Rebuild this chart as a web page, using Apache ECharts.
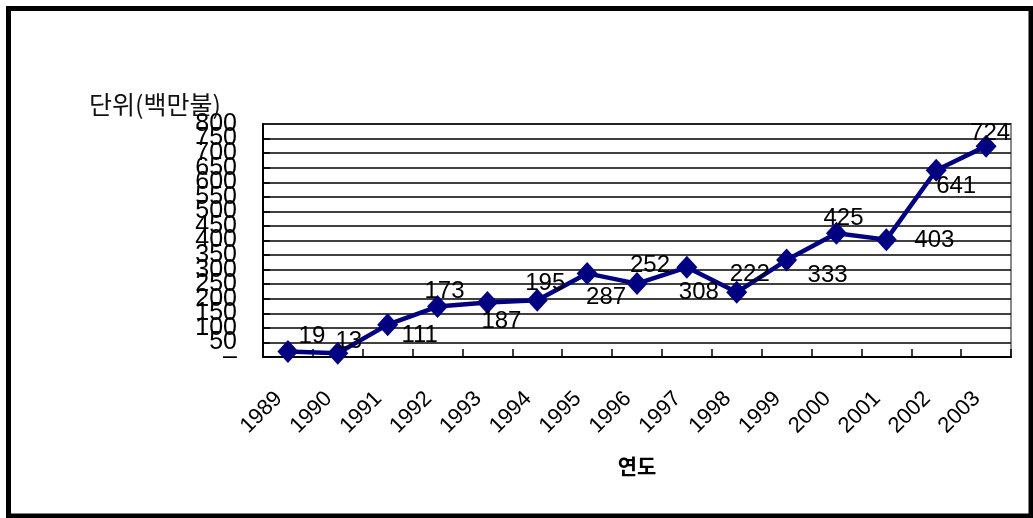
<!DOCTYPE html>
<html>
<head>
<meta charset="utf-8">
<script src="https://cdn.jsdelivr.net/npm/echarts@6/dist/echarts.min.js"></script>
<style>
  html, body { margin: 0; padding: 0; background: #fff; }
  #chart { width: 1033px; height: 518px; }
</style>
</head>
<body>
<div id="chart"></div>
<script>
// 연도별 금액 (단위: 백만불)
const years = ['1989', '1990', '1991', '1992', '1993', '1994', '1995', '1996',
               '1997', '1998', '1999', '2000', '2001', '2002', '2003'];
const amounts = [19, 13, 111, 173, 187, 195, 287, 252, 308, 222, 333, 425, 403, 641, 724];

// 값 축 범위와 눈금 간격
const yMin = 0;
const yMax = 800;
const yStep = 50;

// 값 라벨을 점에서 얼마나 떨어뜨릴지 (px)
const labelShift = [
  [24, -15], [11, -12], [32, 11], [7, -15], [14, 19], [8, -17], [19, 24], [13, -18],
  [12, 25], [13, -18], [41, 15], [7, -15], [48, 1], [20, 16], [4, -13]
];

const numFont = "'Liberation Sans Narrow', 'Liberation Sans', 'Arial Narrow', sans-serif";
const krFont = "'Noto Sans CJK KR', 'Noto Sans', sans-serif";

const tickText = v => (v === 0 ? '–' : String(v));
const yLabelStyle = { margin: 26, fontFamily: numFont, fontSize: 25, lineHeight: 13, color: '#000', hideOverlap: false };

const chart = echarts.init(document.getElementById('chart'), null, { renderer: 'canvas' });

chart.setOption({
  backgroundColor: '#ffffff',
  animation: false,
  grid: {
    left: 263, right: 22, top: 124, bottom: 161,
    show: true, borderColor: '#8a8a8a', borderWidth: 2, backgroundColor: 'transparent'
  },
  graphic: [
    {
      type: 'rect', silent: true, z: 100,
      shape: { x: 8.5, y: 8.5, width: 1022.5, height: 507.5 },
      style: { fill: 'none', stroke: '#000', lineWidth: 5 }
    },
    {
      type: 'text', left: 89, top: 92, z: 100,
      style: { text: '단위(백만불)', font: '25px ' + krFont, fill: '#111' }
    }
  ],
  xAxis: {
    type: 'category',
    data: years,
    boundaryGap: true,
    name: '연도',
    nameLocation: 'middle',
    nameGap: 99,
    nameTextStyle: { fontFamily: krFont, fontSize: 21, fontWeight: 'bold', color: '#000' },
    axisLine: { lineStyle: { color: '#000', width: 2 } },
    axisTick: { show: true, inside: true, length: 8, lineStyle: { color: '#000', width: 1.5 } },
    axisLabel: {
      rotate: 45, margin: 29, interval: 0, padding: [0, 13, 0, 0],
      fontFamily: numFont, fontSize: 22, color: '#000'
    },
    splitLine: { show: false }
  },
  yAxis: [
    {
      // 안쪽 눈금 라벨 (50 ~ 750)
      type: 'value', position: 'left',
      min: yMin, max: yMax, interval: yStep,
      axisLine: { show: true, lineStyle: { color: '#000', width: 2 } },
      axisTick: { show: true, inside: true, length: 7, lineStyle: { color: '#000', width: 1.5 } },
      axisLabel: Object.assign({}, yLabelStyle, {
        showMinLabel: false, showMaxLabel: false, formatter: tickText
      }),
      splitLine: { show: true, lineStyle: { color: '#000', width: 1.5 } }
    },
    {
      // 양 끝 라벨 (0, 800)
      type: 'value', position: 'left', offset: 0,
      min: yMin, max: yMax, interval: yStep,
      axisLine: { show: false }, axisTick: { show: false }, splitLine: { show: false },
      axisLabel: Object.assign({}, yLabelStyle, {
        showMinLabel: true, showMaxLabel: true,
        formatter: v => (v === yMin || v === yMax ? tickText(v) : '')
      })
    }
  ],
  series: [{
    type: 'line',
    yAxisIndex: 0,
    data: amounts.map((v, i) => ({
      value: v,
      label: { offset: labelShift[i] }
    })),
    z: 5,
    lineStyle: { color: '#000080', width: 4.5 },
    itemStyle: { color: '#000080' },
    symbol: 'diamond',
    symbolSize: [21, 23],
    label: {
      show: true,
      position: 'inside',
      align: 'center',
      verticalAlign: 'middle',
      fontFamily: numFont,
      fontSize: 24,
      color: '#000'
    }
  }]
});
</script>
</body>
</html>
